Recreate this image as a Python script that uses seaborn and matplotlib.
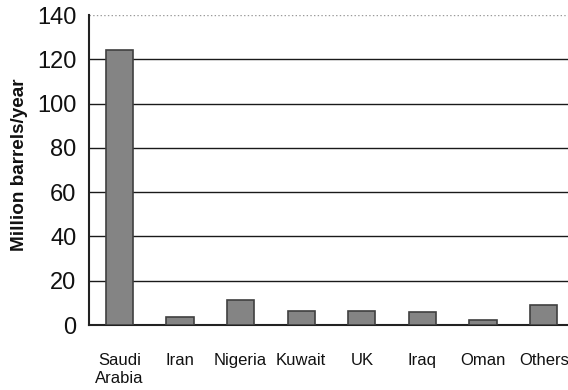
import matplotlib
matplotlib.use("Agg")
import matplotlib.pyplot as plt
import seaborn as sns
import pandas as pd
import numpy as np

# Oil production by country
countries = ["Saudi\nArabia", "Iran", "Nigeria", "Kuwait", "UK", "Iraq", "Oman", "Others"]
barrels = [124, 3.7, 11.5, 6.4, 6.4, 5.7, 2.2, 9.0]
y_ticks = [0, 20, 40, 60, 80, 100, 120, 140]

df = pd.DataFrame({"country": countries, "barrels": barrels})

sns.set_theme(style="white")
plt.rcParams["font.family"] = ["Liberation Sans", "DejaVu Sans"]
plt.rcParams["text.color"] = "#111111"
plt.rcParams["axes.labelcolor"] = "#111111"
plt.rcParams["xtick.color"] = "#111111"
plt.rcParams["ytick.color"] = "#111111"

fig = plt.figure(figsize=(5.68, 3.90), dpi=100)
ax = fig.add_axes([89 / 568, 65 / 390, 485 / 568, 310 / 390])

sns.barplot(data=df, x="country", y="barrels", color="#848484",
            edgecolor="#404040", linewidth=1.2, width=0.45, saturation=1,
            ax=ax, zorder=3)

ax.set_xlim(-0.5, len(countries) - 0.5)
ax.set_ylim(0, 140)
ax.set_yticks(y_ticks)
ax.set_yticklabels([str(v) for v in y_ticks], fontsize=17)

# category labels centred, tick marks on the boundaries
ax.set_xticks(np.arange(len(countries)))
ax.set_xticklabels(countries, fontsize=12, linespacing=1.25)
ax.set_xticks(np.arange(len(countries) + 1) - 0.5, minor=True)
ax.tick_params(axis="x", which="major", length=0, pad=20)
ax.tick_params(axis="x", which="minor", length=6, width=1.4, color="#222222", direction="out")
ax.tick_params(axis="y", which="major", length=8, width=1.4, color="#222222",
               direction="out", pad=1)
for lbl in ax.get_xticklabels():
    lbl.set_verticalalignment("top")

ax.set_xlabel("")
ax.set_ylabel("")
fig.text(20 / 568, 1 - 165 / 390, "Million barrels/year", rotation=90,
         ha="center", va="center", fontsize=13.6, fontweight="bold")

ax.yaxis.grid(True, color="#1a1a1a", linewidth=1.0, zorder=0)
ax.get_ygridlines()[-1].set(color="#9a9a9a", linestyle=":", linewidth=1.0)
ax.set_axisbelow(True)

for side in ["top", "right"]:
    ax.spines[side].set_visible(False)
for side in ["left", "bottom"]:
    ax.spines[side].set_color("#222222")
    ax.spines[side].set_linewidth(1.5)

fig.savefig("out.png", dpi=100)
